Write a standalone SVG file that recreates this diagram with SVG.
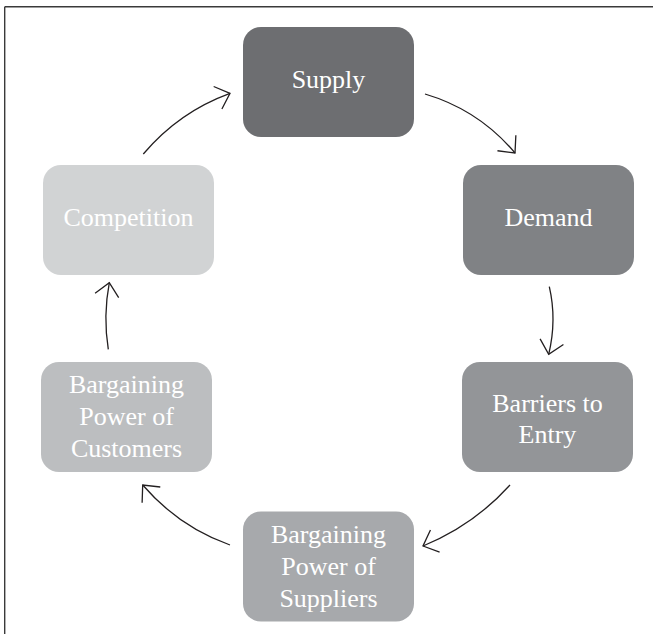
<svg xmlns="http://www.w3.org/2000/svg" width="653" height="634" viewBox="0 0 653 634">
<style>
.box{stroke:none}
.lbl{font-family:"Liberation Serif","Times New Roman",serif;font-size:26px;fill:#ffffff;text-anchor:middle}
.conn{fill:none;stroke:#231f20;stroke-width:1.3;marker-end:url(#arr)}
.frame{stroke:#3a3a3a;stroke-width:1.4;fill:none}
</style>
<defs>
<marker id="arr" viewBox="-16 -16 32 32" markerWidth="32" markerHeight="32" refX="0" refY="0" orient="auto" markerUnits="userSpaceOnUse" overflow="visible">
<path d="M-13,-12 L0,0 L-13,12" fill="none" stroke="#231f20" stroke-width="1.3"/>
</marker>
</defs>
<rect width="653" height="634" fill="#ffffff"/>
<g id="frame">
<line class="frame" x1="4.7" y1="6.8" x2="653" y2="6.8"/>
<line class="frame" x1="4.7" y1="6.8" x2="4.7" y2="634"/>
</g>
<g id="connectors">
<path class="conn" d="M425,94 Q479,110 515,153"/>
<path class="conn" d="M549.3,286.7 Q557,320 548.7,354.3"/>
<path class="conn" d="M510,485 Q474,525 423,546"/>
<path class="conn" d="M230,545 Q179,527 142.7,485"/>
<path class="conn" d="M108.3,349.3 Q103,316 109.3,282.7"/>
<path class="conn" d="M143.3,154 Q178.7,112 230,93.3"/>
</g>
<g id="supply">
<rect class="box" x="243" y="27" width="171" height="110" rx="18" fill="#6d6e71"/>
<text class="lbl" x="328.5" y="87.5">Supply</text>
</g>
<g id="demand">
<rect class="box" x="463" y="165" width="171" height="110" rx="18" fill="#808285"/>
<text class="lbl" x="548.5" y="225.5">Demand</text>
</g>
<g id="barriers">
<rect class="box" x="462" y="362" width="171" height="110" rx="18" fill="#939598"/>
<text class="lbl" x="547.5" y="411.7">Barriers to</text>
<text class="lbl" x="547.5" y="443.3">Entry</text>
</g>
<g id="suppliers">
<rect class="box" x="243" y="511.5" width="171" height="110" rx="18" fill="#a7a9ac"/>
<text class="lbl" x="328.5" y="543.3">Bargaining</text>
<text class="lbl" x="328.5" y="575">Power of</text>
<text class="lbl" x="328.5" y="606.7">Suppliers</text>
</g>
<g id="customers">
<rect class="box" x="41" y="362" width="171" height="110" rx="18" fill="#bcbec0"/>
<text class="lbl" x="126.5" y="393.3">Bargaining</text>
<text class="lbl" x="126.5" y="425">Power of</text>
<text class="lbl" x="126.5" y="456.7">Customers</text>
</g>
<g id="competition">
<rect class="box" x="43" y="165" width="171" height="110" rx="18" fill="#d1d3d4"/>
<text class="lbl" x="128.5" y="226">Competition</text>
</g>
</svg>
